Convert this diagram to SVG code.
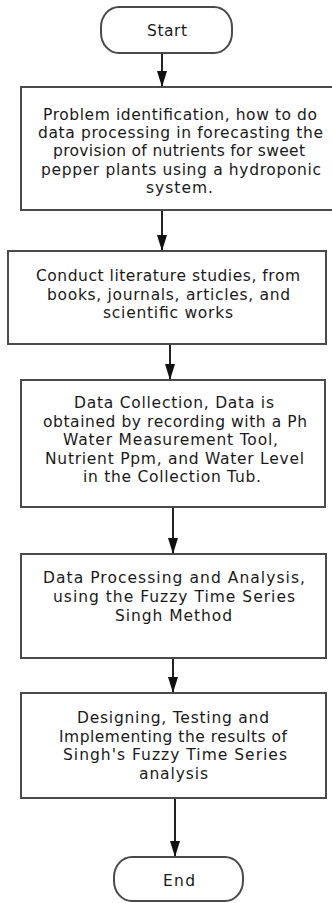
<svg xmlns="http://www.w3.org/2000/svg" width="332" height="903" viewBox="0 0 332 903">
<style>
.bg{fill:#ffffff}
.box{fill:#ffffff;stroke:#4a4a4a;stroke-width:2}
.t{font-family:"DejaVu Sans","Liberation Sans",sans-serif;font-size:15.5px;fill:#1a1a1a;text-anchor:middle}
.c{fill:none;stroke:#222;stroke-width:2}
</style>
<defs>
<marker id="ah" markerUnits="userSpaceOnUse" markerWidth="16" markerHeight="10" refX="16" refY="5" orient="auto" viewBox="0 0 16 10">
<path d="M0,0 L16,5 L0,10 Z" fill="#111"/>
</marker>
</defs>
<rect class="bg" x="0" y="0" width="332" height="903"/>
<g id="connectors">
<line class="c" x1="162" y1="53" x2="162" y2="87" marker-end="url(#ah)"/>
<line class="c" x1="162" y1="210" x2="162" y2="251" marker-end="url(#ah)"/>
<line class="c" x1="170" y1="344" x2="170" y2="380" marker-end="url(#ah)"/>
<line class="c" x1="173" y1="507" x2="173" y2="554" marker-end="url(#ah)"/>
<line class="c" x1="173" y1="658" x2="173" y2="693" marker-end="url(#ah)"/>
<line class="c" x1="175" y1="798" x2="175" y2="857" marker-end="url(#ah)"/>
</g>
<g id="start">
<rect class="box" x="101" y="7" width="131" height="46" rx="18" ry="20"/>
<text class="t" x="167" y="36" textLength="40">Start</text>
</g>
<g id="problem">
<rect class="box" x="21" y="87" width="322" height="123"/>
<text class="t" x="180" y="120" textLength="274">Problem identification, how to do</text>
<text class="t" x="180.5" y="138.2" textLength="285">data processing in forecasting the</text>
<text class="t" x="179" y="156.4" textLength="252">provision of nutrients for sweet</text>
<text class="t" x="181" y="174.6" textLength="280">pepper plants using a hydroponic</text>
<text class="t" x="179.5" y="192.8" textLength="67">system.</text>
</g>
<g id="literature">
<rect class="box" x="8" y="251" width="318" height="93"/>
<text class="t" x="168" y="281" textLength="264">Conduct literature studies, from</text>
<text class="t" x="168.5" y="299.5" textLength="243">books, journals, articles, and</text>
<text class="t" x="168" y="318" textLength="130">scientific works</text>
</g>
<g id="collection">
<rect class="box" x="21" y="380" width="304" height="127"/>
<text class="t" x="174" y="408" textLength="200">Data Collection, Data is</text>
<text class="t" x="175" y="426.5" textLength="264">obtained by recording with a Ph</text>
<text class="t" x="170.5" y="445" textLength="215">Water Measurement Tool,</text>
<text class="t" x="174.5" y="463.5" textLength="259">Nutrient Ppm, and Water Level</text>
<text class="t" x="172" y="482" textLength="178">in the Collection Tub.</text>
</g>
<g id="processing">
<rect class="box" x="21" y="554" width="305" height="104"/>
<text class="t" x="174" y="583" textLength="262">Data Processing and Analysis,</text>
<text class="t" x="174" y="602" textLength="242">using the Fuzzy Time Series</text>
<text class="t" x="173.5" y="621" textLength="117">Singh Method</text>
</g>
<g id="designing">
<rect class="box" x="21" y="693" width="305" height="105"/>
<text class="t" x="173" y="723" textLength="192">Designing, Testing and</text>
<text class="t" x="173" y="741.5" textLength="228">Implementing the results of</text>
<text class="t" x="175" y="760" textLength="224">Singh's Fuzzy Time Series</text>
<text class="t" x="173.5" y="778.5" textLength="69">analysis</text>
</g>
<g id="end">
<rect class="box" x="114" y="857" width="129" height="44" rx="18" ry="20"/>
<text class="t" x="179" y="886" textLength="32">End</text>
</g>
</svg>
